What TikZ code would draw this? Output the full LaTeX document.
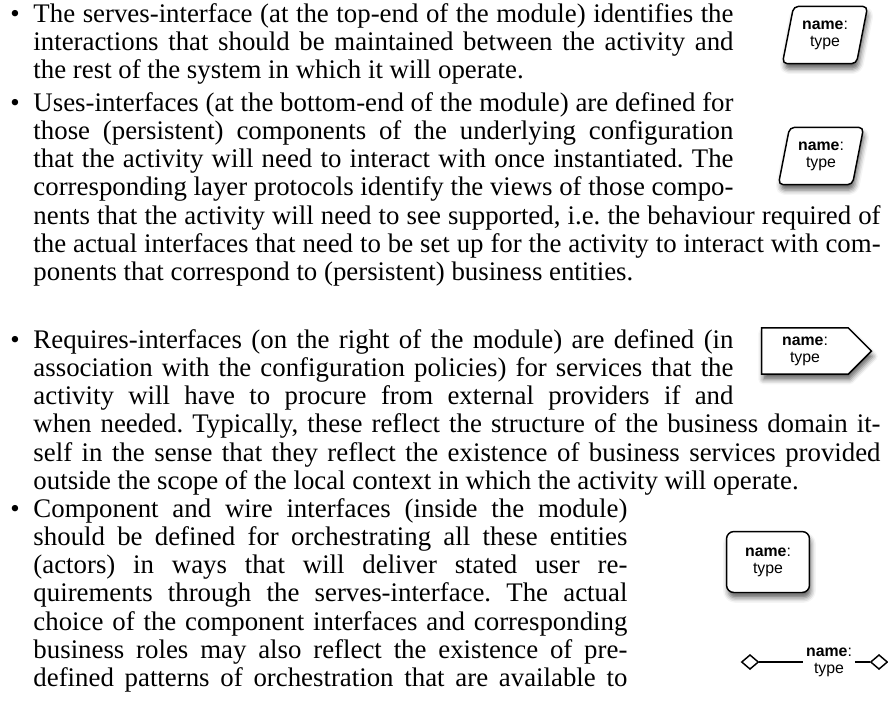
\documentclass[tikz,border=0pt]{standalone}
\usepackage{fontspec}
\setmainfont{Liberation Serif}
\newfontfamily\shapefont{Liberation Sans}
\usetikzlibrary{shapes.geometric}
\usetikzlibrary{shapes.symbols}
\usetikzlibrary{shadows.blur}
\tikzset{mshadow/.style={blur shadow={shadow xshift=0.6pt,shadow yshift=-2.2pt,shadow blur radius=2pt,shadow opacity=60}}}
\tikzset{mface/.style={draw,line width=0.6pt,fill=white,mshadow,align=center,inner sep=1pt,font=\shapefont\fontsize{6.5pt}{7pt}\selectfont}}
\tikzset{mserves/.style={mface,trapezium,trapezium left angle=75,trapezium right angle=105,trapezium stretches=true,minimum width=35pt,minimum height=23.5pt,rounded corners=2pt}}
\tikzset{mrequires/.style={mface,signal,signal to=east,minimum width=45pt,minimum height=19pt}}
\tikzset{mcomp/.style={mface,rectangle,rounded corners=3pt,minimum width=34pt,minimum height=25pt}}
\tikzset{mport/.style={draw,line width=0.6pt,fill=white,diamond,inner sep=0pt,minimum width=7pt,minimum height=6pt}}
\tikzset{mitem/.style={anchor=base west,inner sep=0pt,font=\fontsize{11pt}{11.6pt}\selectfont}}
\tikzset{mbullet/.style={anchor=base,inner sep=0pt,font=\fontsize{11pt}{11.6pt}\selectfont}}
\newcommand{\nametype}{\textbf{name}:\\type}
\tolerance=10000
\emergencystretch=20pt
\hyphenpenalty=10000
\exhyphenpenalty=10000
\frenchspacing
\begin{document}
\begin{tikzpicture}[x=0.41pt,y=-0.41pt]
\useasboundingbox (0,0) rectangle (888,710);

\node[mbullet] (b1) at (15,22) {\textbullet};
\node[mitem] (t1) at (33,22) {\begin{minipage}[t]{287pt}
The serves-interface (at the top-end of the module) identifies the\linebreak
interactions that should be maintained between the activity and\linebreak
the rest of the system in which it will operate.\end{minipage}};

\node[mbullet] (b2) at (15,111) {\textbullet};
\node[mitem] (t2) at (33,111) {\begin{minipage}[t]{347.3pt}
\parshape 5 0pt 287pt 0pt 287pt 0pt 287pt 0pt 287pt 0pt 347.3pt
Uses-interfaces (at the bottom-end of the module) are defined for\linebreak
those (persistent) components of the underlying configuration\linebreak
that the activity will need to interact with once instantiated. The\linebreak
corresponding layer protocols identify the views of those compo-\linebreak
nents that the activity will need to see supported, i.e.\ the behaviour required of\linebreak
the actual interfaces that need to be set up for the activity to interact with com-\linebreak
ponents that correspond to (persistent) business entities.\end{minipage}};

\node[mbullet] (b3) at (15,348) {\textbullet};
\node[mitem] (t3) at (33,348) {\begin{minipage}[t]{347.3pt}
\parshape 4 0pt 287pt 0pt 287pt 0pt 287pt 0pt 347.3pt
Requires-interfaces (on the right of the module) are defined (in\linebreak
association with the configuration policies) for services that the\linebreak
activity will have to procure from external providers if and\linebreak
when needed. Typically, these reflect the structure of the business domain it-\linebreak
self in the sense that they reflect the existence of business services provided\linebreak
outside the scope of the local context in which the activity will operate.\end{minipage}};

\node[mbullet] (b4) at (15,517) {\textbullet};
\node[mitem] (t4) at (33,517) {\begin{minipage}[t]{243.5pt}
\parfillskip=0pt
Component and wire interfaces (inside the module)\linebreak
should be defined for orchestrating all these entities\linebreak
(actors) in ways that will deliver stated user re-\linebreak
quirements through the serves-interface. The actual\linebreak
choice of the component interfaces and corresponding\linebreak
business roles may also reflect the existence of pre-\linebreak
defined patterns of orchestration that are available to\end{minipage}};

\node[mserves] (serves) at (825,35) {\nametype};
\node[mserves] (uses) at (821,156) {\nametype};
\node[mrequires] (requires) at (805,351) {\nametype};
\node[mcomp] (comp) at (768,562) {\nametype};

\node[mport] (pl) at (750,662) {};
\node[mport] (pr) at (879,662) {};
\node[align=center,inner sep=1pt,font=\shapefont\fontsize{6.5pt}{7pt}\selectfont] (wire) at (829,662) {\nametype};
\draw[line width=0.6pt] (pl) -- (wire);
\draw[line width=0.6pt] (wire) -- (pr);

\end{tikzpicture}
\end{document}
